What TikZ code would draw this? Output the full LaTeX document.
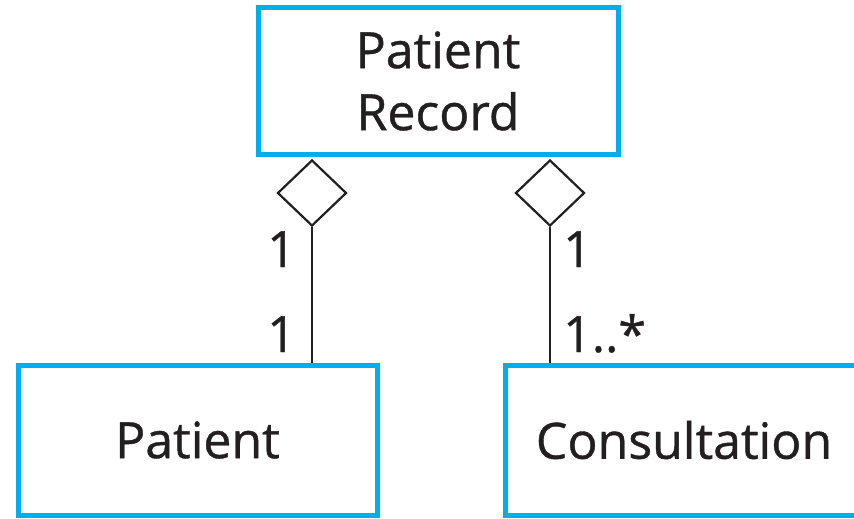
\documentclass[tikz,border=0pt]{standalone}
\usepackage{fontspec}
\setmainfont{Open Sans}
\newfontfamily\diagfont{Open Sans}[FakeBold=0.8]
\usetikzlibrary{shapes.geometric}
\definecolor{boxcyan}{RGB}{0,174,239}
\definecolor{ink}{RGB}{35,31,32}
\begin{document}
\begin{tikzpicture}[x=1pt,y=-1pt,
  classbox/.style={draw=boxcyan,line width=5pt,align=center,inner sep=0pt,
    text=ink,font=\diagfont\fontsize{50}{62}\selectfont},
  aggdiamond/.style={draw=ink,diamond,line width=2.2pt,inner sep=0pt,
    minimum width=69pt,minimum height=66pt,fill=white},
  conn/.style={draw=ink,line width=2pt},
  mult/.style={inner sep=0pt,text=ink,font=\diagfont\fontsize{50}{50}\selectfont}]
\useasboundingbox (0,0) rectangle (854,519);
\begin{scope}
\clip (0,0) rectangle (854,519);
\node[classbox,minimum width=360pt,minimum height=146pt] (rec) at (438,81) {Patient\\Record};
\node[classbox,minimum width=359pt,minimum height=150pt] (pat) at (197.5,440) {Patient};
\node[classbox,minimum width=358pt,minimum height=150pt] (con) at (684,440) {Consultation};
\end{scope}
\node[aggdiamond] (d1) at (312,193) {};
\node[aggdiamond] (d2) at (550,193) {};
\draw[conn] (d1.south) -- (d1.south |- pat.north);
\draw[conn] (d2.south) -- (d2.south |- con.north);
\node[mult,anchor=base east] (m1) at (296,267) {1};
\node[mult,anchor=base east] (m2) at (296,352) {1};
\node[mult,anchor=base west] (m3) at (563,267) {1};
\node[mult,anchor=base west] (m4) at (563,352) {1..*};
\end{tikzpicture}
\end{document}
